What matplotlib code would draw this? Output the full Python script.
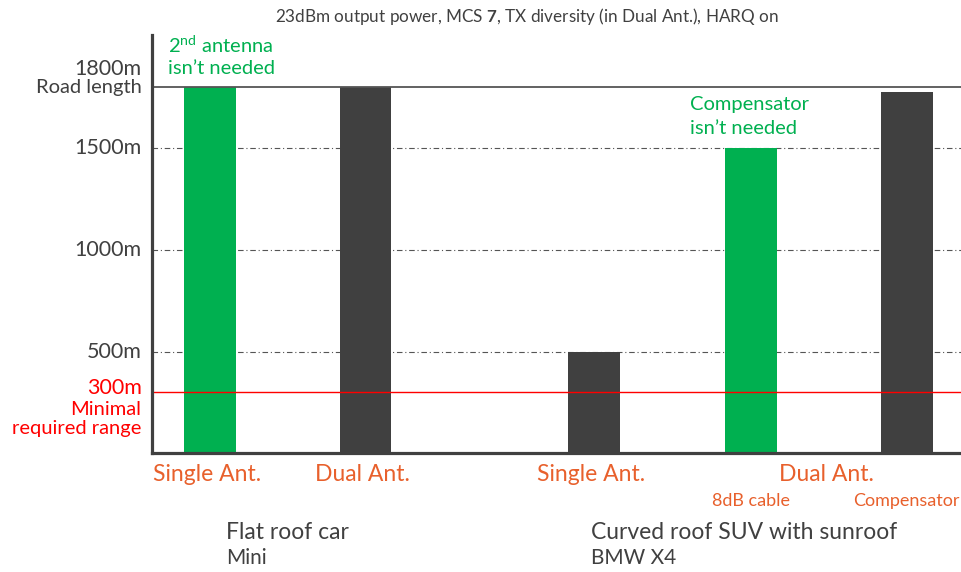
import matplotlib.pyplot as plt

plt.rcParams['font.family'] = ['Lato', 'DejaVu Sans']
plt.rcParams['mathtext.fontset'] = 'custom'
plt.rcParams['mathtext.rm'] = 'Lato'
plt.rcParams['mathtext.bf'] = 'Lato:bold'

# bars: flat roof car (single, dual), SUV (single, dual + 8dB cable, dual + compensator)
positions = [0, 1, 2.47, 3.48, 4.48]
ranges = [1800, 1800, 500, 1500, 1780]
colors = ['#00B050', '#404040', '#404040', '#00B050', '#404040']
ant_labels = ['Single Ant.', 'Dual Ant.', 'Single Ant.']
ant_label_pos = [0, 1, 2.47]
dual_suv_label_pos = 3.98
sub_labels = ['8dB cable', 'Compensator']
groups = [('Flat roof car', 'Mini', 0.103), ('Curved roof SUV with sunroof', 'BMW X4', 2.45)]
grid_vals = [500, 1000, 1500]
road_length = 1800
min_range = 300

DARK = '#404040'
ORANGE = '#E8602C'
GREEN = '#00B050'

fig = plt.figure(figsize=(9.61, 5.72), dpi=100)
ax = fig.add_axes([0.1582, 0.2072, 0.8418, 0.7316])

ax.bar(positions, ranges, width=0.334, color=colors, zorder=2)

for v in grid_vals:
    ax.axhline(v, color='#555555', lw=0.8, linestyle=(0, (5, 2.5, 1, 2.5)), zorder=1)
ax.axhline(road_length, color='#555555', lw=1.3, zorder=3)
ax.axhline(min_range, color='#FF0000', lw=1, zorder=3)

ax.set_xlim(-0.373, 4.83)
ax.set_ylim(0, 2058)
ax.set_xticks([])
ax.set_yticks([])
for s in ['top', 'right']:
    ax.spines[s].set_visible(False)
for s in ['left', 'bottom']:
    ax.spines[s].set_linewidth(2.3)
    ax.spines[s].set_color(DARK)
    ax.spines[s].set_zorder(4)

# y labels
def ylab(y, txt, dy, color=DARK, size=15.5):
    ax.annotate(txt, xy=(0, y), xycoords=('axes fraction', 'data'),
                xytext=(-7.5, dy), textcoords='offset points',
                ha='right', va='center', color=color, fontsize=size)

ylab(road_length, '1800m', 13)
ylab(road_length, 'Road length', 0, size=14.5)
for v in grid_vals:
    ylab(v, f'{v}m', 0)
ylab(min_range, f'{min_range}m', 3, color='#FF0000')
ylab(min_range, 'Minimal', -12, color='#FF0000', size=14.5)
ylab(min_range, 'required range', -26, color='#FF0000', size=14.5)

# category labels
for p, t in zip(ant_label_pos, ant_labels):
    ax.annotate(t, xy=(p, 0), xycoords=('data', 'axes fraction'), xytext=(-2, -15),
                textcoords='offset points', ha='center', va='center',
                color=ORANGE, fontsize=16.5)
ax.annotate('Dual Ant.', xy=(dual_suv_label_pos, 0), xycoords=('data', 'axes fraction'),
            xytext=(-2, -15), textcoords='offset points', ha='center', va='center',
            color=ORANGE, fontsize=16.5)
for p, t in zip(positions[3:], sub_labels):
    ax.annotate(t, xy=(p, 0), xycoords=('data', 'axes fraction'), xytext=(0, -34),
                textcoords='offset points', ha='center', va='center',
                color=ORANGE, fontsize=13)

for name, car, p in groups:
    ax.annotate(name, xy=(p, 0), xycoords=('data', 'axes fraction'), xytext=(0, -57),
                textcoords='offset points', ha='left', va='center',
                color=DARK, fontsize=16.5)
    ax.annotate(car, xy=(p, 0), xycoords=('data', 'axes fraction'), xytext=(0, -75),
                textcoords='offset points', ha='left', va='center',
                color=DARK, fontsize=15)

# notes over green bars
ax.text(-0.27, 2010, r'2$^{\mathrm{nd}}$ antenna', color=GREEN, fontsize=14.5, va='center')
ax.text(-0.27, 1895, 'isn’t needed', color=GREEN, fontsize=14.5, va='center')
ax.text(3.09, 1715, 'Compensator', color=GREEN, fontsize=14.5, va='center')
ax.text(3.09, 1598, 'isn’t needed', color=GREEN, fontsize=14.5, va='center')

fig.text(0.548, 0.972, r'23dBm output power, MCS $\mathbf{7}$, TX diversity (in Dual Ant.), HARQ on',
         ha='center', va='center', color=DARK, fontsize=12.3)

fig.savefig('out.png', dpi=100)
